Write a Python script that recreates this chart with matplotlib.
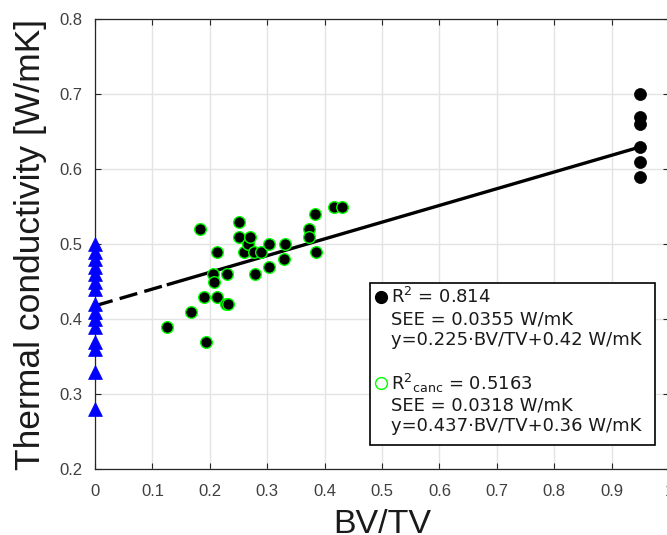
import matplotlib
matplotlib.use("Agg")
import matplotlib.pyplot as plt
from matplotlib.patches import Rectangle
from matplotlib.lines import Line2D

# ---- data ----
cancel_x = [0.125, 0.167, 0.183, 0.190, 0.193, 0.205, 0.207, 0.212, 0.213, 0.228,
            0.232, 0.230, 0.250, 0.250, 0.260, 0.267, 0.270, 0.277, 0.279, 0.290,
            0.304, 0.304, 0.331, 0.330, 0.372, 0.372, 0.383, 0.385, 0.416, 0.431]
cancel_y = [0.39, 0.41, 0.52, 0.43, 0.37, 0.46, 0.45, 0.43, 0.49, 0.42,
            0.42, 0.46, 0.53, 0.51, 0.49, 0.50, 0.51, 0.49, 0.46, 0.49,
            0.50, 0.47, 0.50, 0.48, 0.52, 0.51, 0.54, 0.49, 0.55, 0.55]
cort_x = [0.95, 0.95, 0.95, 0.95, 0.95, 0.95]
cort_y = [0.70, 0.67, 0.66, 0.63, 0.61, 0.59]
marrow_x = [0.0] * 15
marrow_y = [0.28, 0.33, 0.36, 0.37, 0.39, 0.40, 0.41, 0.42,
            0.44, 0.45, 0.46, 0.47, 0.48, 0.49, 0.50]
fit_slope = 0.223
fit_intercept = 0.418
fit_dash_x = [0.0, 0.125]
fit_solid_x = [0.125, 0.95]

xticks = [0, 0.1, 0.2, 0.3, 0.4, 0.5, 0.6, 0.7, 0.8, 0.9, 1.0]
xticklabels = ["0", "0.1", "0.2", "0.3", "0.4", "0.5", "0.6", "0.7", "0.8", "0.9", "1"]
yticks = [0.2, 0.3, 0.4, 0.5, 0.6, 0.7, 0.8]
yticklabels = ["0.2", "0.3", "0.4", "0.5", "0.6", "0.7", "0.8"]

legend_lines_1 = ["R$^2$ = 0.814", "SEE = 0.0355 W/mK", "y=0.225\u00b7BV/TV+0.42 W/mK"]
legend_lines_2 = ["R$^2$$_{\\rm canc}$ = 0.5163", "SEE = 0.0318 W/mK", "y=0.437\u00b7BV/TV+0.36 W/mK"]

W, H = 667, 535
fig = plt.figure(figsize=(W / 100, H / 100), dpi=100)
ax = fig.add_axes([95 / W, (H - 469.3) / H, 574 / W, 450 / H])

ax.set_xlim(0, 1)
ax.set_ylim(0.2, 0.8)
ax.grid(True, color="#e3e3e3", linewidth=1.0, zorder=0)
ax.set_axisbelow(True)

fx = lambda xs: [fit_slope * x + fit_intercept for x in xs]
ax.plot(fit_dash_x, fx(fit_dash_x), color="black", lw=2.4, dashes=(5.5, 2.2), zorder=3)
ax.plot(fit_solid_x, fx(fit_solid_x), color="black", lw=2.4, zorder=3, solid_capstyle="butt")

ax.scatter(cancel_x, cancel_y, s=70, c="black", edgecolors="#00ff00", linewidths=1.0, zorder=4)
ax.scatter(cort_x, cort_y, s=75, c="black", edgecolors="black", linewidths=0.5, zorder=4)
ax.scatter(marrow_x, marrow_y, s=100, marker="^", c="#0000ff", edgecolors="#0000ff",
           linewidths=0.5, zorder=5, clip_on=False)

ax.set_xticks(xticks)
ax.set_xticklabels(xticklabels)
ax.set_yticks(yticks)
ax.set_yticklabels(yticklabels)
ax.tick_params(direction="in", top=True, right=True, length=4, width=0.8,
               colors="#262626", labelcolor="#404040", labelsize=12)
ax.tick_params(axis="x", pad=10.5)
ax.tick_params(axis="y", pad=9)
for lab in ax.get_xticklabels() + ax.get_yticklabels():
    lab.set_fontfamily("Liberation Sans")
for s in ax.spines.values():
    s.set_color("#262626")
    s.set_linewidth(0.9)

ax.set_xlabel("BV/TV", fontsize=24.5, family="Liberation Sans", color="#1a1a1a", labelpad=7)
ax.set_ylabel("Thermal conductivity [W/mK]", fontsize=25.5, family="Liberation Sans",
              color="#1a1a1a", labelpad=9)

# legend box (figure pixel coordinates)
def fxp(x):
    return x / W
def fyp(y):
    return 1 - y / H

rect = Rectangle((fxp(370), fyp(445)), (655 - 370) / W, (445 - 282.7) / H,
                 transform=fig.transFigure, facecolor="white", edgecolor="black",
                 linewidth=1.2, zorder=10)
fig.patches.append(rect)

ys1 = [297, 319, 340]
ys2 = [383, 405, 426]
for t, y in zip(legend_lines_1, ys1):
    fig.text(fxp(391), fyp(y), t, fontsize=13, family="DejaVu Sans", va="center",
             ha="left", color="#1a1a1a", zorder=11)
for t, y in zip(legend_lines_2, ys2):
    fig.text(fxp(391), fyp(y), t, fontsize=13, family="DejaVu Sans", va="center",
             ha="left", color="#1a1a1a", zorder=11)
fig.add_artist(Line2D([fxp(381)], [fyp(297)], marker="o", markersize=8.5, color="black",
                      transform=fig.transFigure, zorder=11))
fig.add_artist(Line2D([fxp(381)], [fyp(383)], marker="o", markersize=8.5,
                      markerfacecolor="none", markeredgecolor="#00ff00", markeredgewidth=1.0,
                      transform=fig.transFigure, zorder=11))

fig.savefig("out.png", dpi=100)
